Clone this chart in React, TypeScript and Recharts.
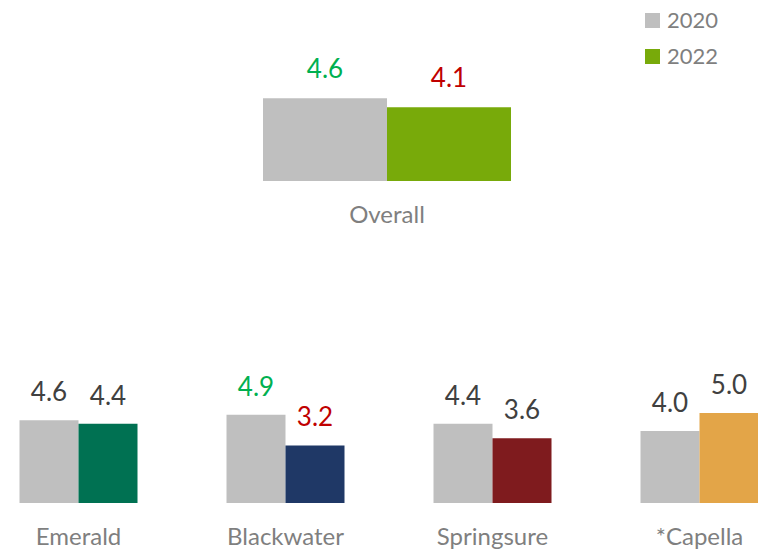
import React from 'react';
import { BarChart, Bar, XAxis, YAxis, Cell, LabelList } from 'recharts';

// series / categories
const SERIES = ['2020', '2022'];
const OVERALL_CATEGORIES = ['Overall'];
const OVERALL_2020 = [4.6];
const OVERALL_2022 = [4.1];
const REGIONS = ['Emerald', 'Blackwater', 'Springsure', '*Capella'];
const REGION_2020 = [4.6, 4.9, 4.4, 4.0];
const REGION_2022 = [4.4, 3.2, 3.6, 5.0];

// colours
const GREY = '#bfbfbf';
const OVERALL_2022_COLOR = '#78aa0a';
const REGION_2022_COLORS = ['#007152', '#1f3866', '#7f1b1e', '#e3a548'];
const UP = '#00b050';
const DOWN = '#c00000';
const DARK = '#404040';
const OVERALL_LABELS_2020 = [UP];
const OVERALL_LABELS_2022 = [DOWN];
const REGION_LABELS_2020 = [DARK, UP, DARK, DARK];
const REGION_LABELS_2022 = [DARK, DOWN, DARK, DARK];

const FONT = 'Lato, "Open Sans", sans-serif';

const overallData = OVERALL_CATEGORIES.map((name, i) => ({
  name,
  y2020: OVERALL_2020[i],
  y2022: OVERALL_2022[i],
}));

const regionData = REGIONS.map((name, i) => ({
  name,
  y2020: REGION_2020[i],
  y2022: REGION_2022[i],
}));

function valueLabel(colors: string[], offset: number) {
  return (props: any) => {
    const { x, y, width, value, index } = props;
    return (
      <text
        x={Number(x) + Number(width) / 2}
        y={Number(y) - offset}
        textAnchor="middle"
        fill={colors[index] ?? DARK}
        fontSize={26}
        fontFamily={FONT}
      >
        {Number(value).toFixed(1)}
      </text>
    );
  };
}

const tickStyle = { fontSize: 24, fill: '#7f7f7f', fontFamily: FONT };

export default function App() {
  return (
    <div
      style={{
        position: 'absolute',
        left: 0,
        top: 0,
        width: 758,
        height: 550,
        overflow: 'hidden',
        background: '#fff',
        fontFamily: FONT,
      }}
    >
      {/* legend */}
      <div style={{ position: 'absolute', left: 645, top: 8 }}>
        {SERIES.map((s, i) => (
          <div key={s} style={{ display: 'flex', alignItems: 'center', height: 24, marginBottom: 12 }}>
            <div
              style={{
                width: 15,
                height: 15,
                background: i === 0 ? GREY : OVERALL_2022_COLOR,
                marginRight: 7,
              }}
            />
            <span style={{ fontSize: 22, color: '#7f7f7f', lineHeight: '24px' }}>{s}</span>
          </div>
        ))}
      </div>

      {/* overall */}
      <div style={{ position: 'absolute', left: 0, top: 0 }}>
        <BarChart
          width={758}
          height={240}
          data={overallData}
          margin={{ top: 91, right: 247, bottom: 0, left: 263 }}
          barCategoryGap={0}
          barGap={0}
        >
          <XAxis
            dataKey="name"
            axisLine={false}
            tickLine={false}
            tickSize={0}
            tickMargin={25}
            height={59}
            interval={0}
            tick={tickStyle}
          />
          <YAxis hide type="number" domain={[0, 5]} />
          <Bar dataKey="y2020" name={SERIES[0]} fill={GREY} isAnimationActive={false}>
            <LabelList dataKey="y2020" content={valueLabel(OVERALL_LABELS_2020, 20)} />
          </Bar>
          <Bar dataKey="y2022" name={SERIES[1]} fill={OVERALL_2022_COLOR} isAnimationActive={false}>
            <LabelList dataKey="y2022" content={valueLabel(OVERALL_LABELS_2022, 20)} />
          </Bar>
        </BarChart>
      </div>

      {/* regions */}
      <div style={{ position: 'absolute', left: -25, top: 240 }}>
        <BarChart
          width={828}
          height={310}
          data={regionData}
          margin={{ top: 173, right: 0, bottom: 0, left: 0 }}
          barCategoryGap={44.5}
          barGap={0}
        >
          <XAxis
            dataKey="name"
            axisLine={false}
            tickLine={false}
            tickSize={0}
            tickMargin={25}
            height={47}
            interval={0}
            tick={tickStyle}
          />
          <YAxis hide type="number" domain={[0, 5]} />
          <Bar dataKey="y2020" name={SERIES[0]} fill={GREY} isAnimationActive={false}>
            <LabelList dataKey="y2020" content={valueLabel(REGION_LABELS_2020, 19)} />
          </Bar>
          <Bar dataKey="y2022" name={SERIES[1]} isAnimationActive={false}>
            {regionData.map((d, i) => (
              <Cell key={d.name} fill={REGION_2022_COLORS[i]} />
            ))}
            <LabelList dataKey="y2022" content={valueLabel(REGION_LABELS_2022, 19)} />
          </Bar>
        </BarChart>
      </div>
    </div>
  );
}
